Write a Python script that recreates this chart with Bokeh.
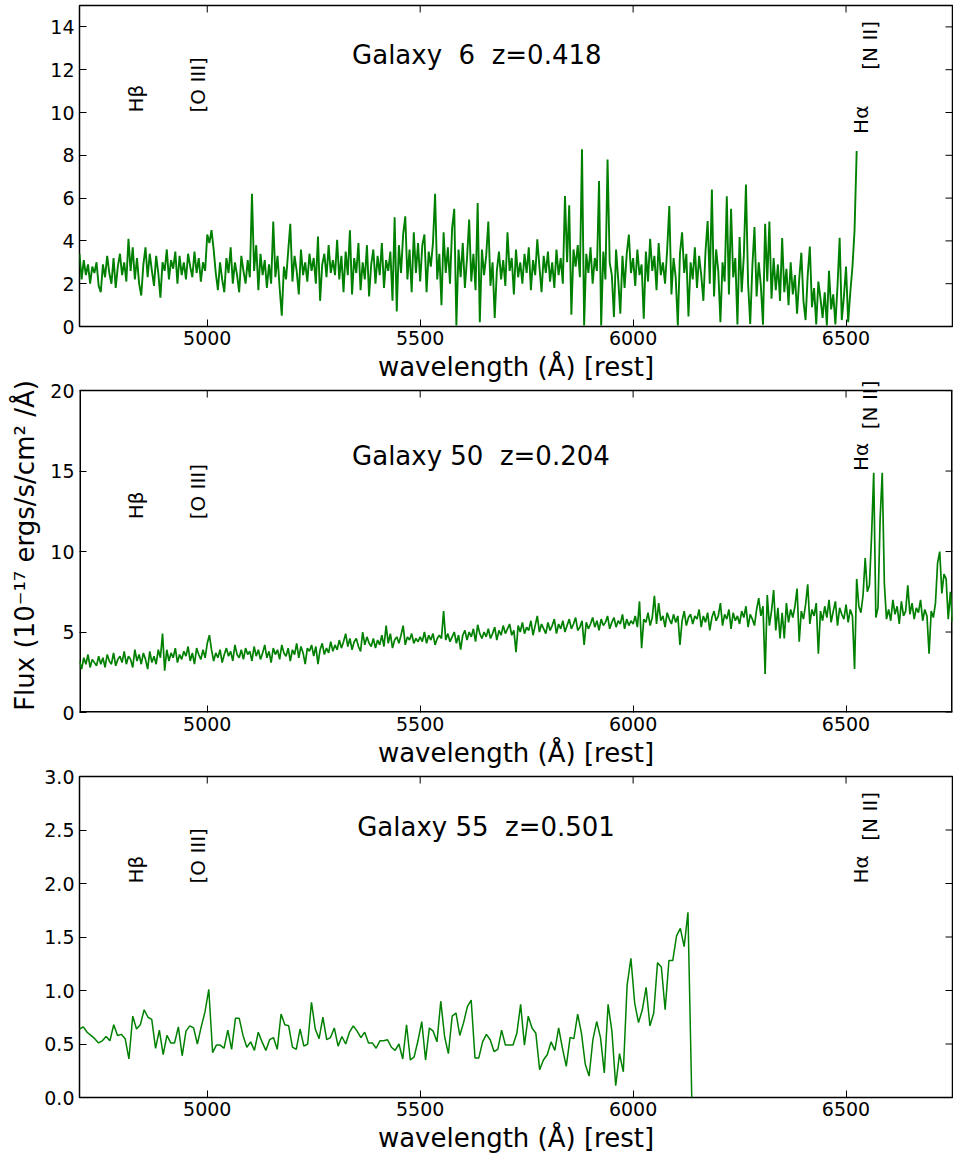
import numpy as np
from bokeh.plotting import figure
from bokeh.models import FixedTicker, PrintfTickFormatter, ColumnDataSource, Range1d, Label
from bokeh.layouts import column
from bokeh.embed import file_html
from bokeh.resources import INLINE
from bokeh.core.properties import value

FONT = "DejaVu Sans"
GREEN = "#008000"

# ---------------- data ----------------
x_range = (4700, 6750)
x_ticks = [5000, 5500, 6000, 6500]
line_names = ["Hβ", "[O III]", "Hα", "[N II]"]
line_wl = [4861, 5007, 6563, 6584]

# "\u00a0 " keeps the double spaces of the original titles visible in SVG
titles = ["Galaxy\u00a0 6\u00a0 z=0.418", "Galaxy 50\u00a0 z=0.204", "Galaxy 55\u00a0 z=0.501"]

# Galaxy 6: flux sampled every 5 A from 4700 A
g6_start, g6_step = 4700, 5
g6_flux = [
    3.4, 2.2, 3.1, 2.4, 2.9, 2.0, 2.8, 2.5, 3.0, 1.9,
    1.6, 2.9, 2.3, 3.3, 2.5, 2.0, 3.2, 1.8, 2.8, 3.4,
    2.4, 3.0, 2.1, 4.1, 2.6, 3.7, 2.2, 3.2, 2.0, 1.45,
    2.9, 3.7, 2.3, 3.4, 2.6, 1.9, 3.3, 2.5, 1.35, 3.0,
    2.6, 3.6, 2.2, 3.1, 2.7, 3.5, 2.0, 3.3, 2.4, 3.0,
    2.2, 3.4, 2.8, 2.3, 3.5, 2.5, 3.2, 2.1, 3.0, 2.6,
    4.3, 3.9, 4.5, 3.6, 2.5, 1.7, 3.0, 2.2, 1.6, 3.2,
    2.5, 3.7, 2.0, 3.0, 2.4, 1.6, 3.3, 2.6, 2.0, 3.1,
    2.3, 6.2, 2.6, 3.8, 1.7, 3.4, 2.4, 3.1, 1.8, 2.9,
    2.0, 4.9, 2.3, 3.3, 1.8, 0.5, 2.8, 2.2, 3.5, 4.8,
    2.1, 3.3, 2.6, 1.5, 3.6, 2.4, 3.0, 2.1, 3.4, 2.6,
    3.2, 2.0, 4.2, 1.2, 2.9, 3.4, 2.3, 3.8, 2.5, 3.1,
    2.4, 4.05, 2.2, 3.3, 1.6, 3.5, 2.4, 4.5, 1.5, 3.2,
    2.5, 3.9, 1.7, 3.0, 2.2, 3.8, 1.4, 2.9, 3.6, 2.0,
    3.3, 2.4, 3.9, 1.8, 3.1, 2.6, 3.5, 1.2, 5.1, 0.7,
    3.8, 2.5, 4.3, 5.15, 2.2, 3.6, 1.6, 4.4, 2.5, 3.9,
    2.1, 3.8, 4.3, 1.6, 3.5, 2.8, 3.9, 6.2, 2.2, 3.4,
    1.0, 4.4, 2.5, 3.7, 2.0, 4.6, 5.5, 0.05, 3.6, 2.3,
    3.9, 1.8, 3.2, 5.0, 2.1, 3.4, 1.7, 5.77, 0.2, 3.6,
    2.4, 3.3, 4.9, 1.9, 3.0, 0.4, 2.6, 3.5, 2.2, 3.1,
    1.9, 4.4, 2.6, 3.2, 1.5, 3.6, 2.3, 3.0, 2.0, 3.4,
    2.5, 3.7, 1.7, 3.1, 2.4, 4.07, 2.8, 1.6, 3.3, 2.5,
    3.5, 2.1, 3.0, 1.8, 3.6, 2.4, 3.2, 2.0, 6.1, 3.0,
    5.66, 0.55, 3.6, 2.8, 3.8, 2.3, 8.28, 0.05, 3.4, 2.5,
    3.7, 2.0, 3.2, 2.6, 6.8, 0.05, 3.5, 2.2, 7.8, 3.0,
    2.4, 0.44, 3.6, 2.2, 0.6, 3.3, 1.8, 3.4, 4.3, 2.5,
    3.2, 1.9, 3.6, 2.4, 2.9, 0.36, 3.5, 2.1, 4.1, 2.6,
    3.3, 1.7, 3.9, 2.4, 3.0, 2.0, 3.6, 5.63, 1.5, 3.2,
    2.3, 0.05, 3.4, 4.4, 2.5, 3.4, 0.47, 3.0, 2.2, 3.7,
    1.8, 3.3, 2.4, 1.2, 3.5, 4.93, 2.0, 6.4, 1.4, 3.6,
    2.6, 0.2, 3.0, 2.1, 6.08, 1.5, 5.5, 2.3, 3.2, 0.1,
    4.18, 1.6, 3.3, 6.64, 2.0, 0.12, 2.8, 4.65, 1.4, 3.0,
    1.9, 0.08, 4.8, 2.1, 4.9, 1.3, 3.2, 1.7, 2.9, 1.2,
    4.13, 1.6, 2.7, 1.0, 3.0, 1.5, 2.4, 0.6, 2.2, 3.45,
    1.2, 0.3, 2.4, 3.74, 0.9, 1.8, 0.1, 2.1, 1.3, 0.4,
    1.6, 0.05, 2.6, 0.8, 1.5, 0.1, 1.9, 4.15, 0.3, 1.4,
    2.8, 0.2, 1.6, 2.77, 4.5, 8.2,
]

# Galaxy 50: flux sampled every 5 A from 4700 A
g50_start, g50_step = 4700, 5
g50_flux = [
    3.2, 2.7, 3.4, 3.0, 3.6, 2.8, 3.3, 3.1, 2.9, 3.5,
    3.0, 3.4, 2.8, 3.6, 3.2, 3.0, 3.7, 2.9, 3.3, 3.5,
    3.1, 3.8, 3.0, 3.5, 3.3, 2.8, 3.9, 3.2, 3.6, 3.0,
    3.7, 3.3, 2.7, 3.8, 3.1, 3.5, 3.0, 3.9, 3.4, 4.9,
    2.6, 3.9, 3.2, 3.7, 3.4, 4.0, 3.1, 3.6, 3.3, 3.8,
    3.5, 4.1, 3.2, 3.7, 3.0, 4.0, 3.6, 3.3, 3.9, 3.4,
    4.3, 4.8, 3.9, 3.2, 3.7, 3.4, 3.9, 3.1, 3.6, 4.0,
    3.5, 3.8, 3.2, 4.2, 3.6, 3.4, 3.9, 3.3, 4.0, 3.6,
    3.8, 3.2, 4.1, 3.5, 3.9, 3.3, 3.7, 4.2, 3.4, 3.8,
    3.1, 4.0, 3.6, 3.9, 3.3, 4.2, 3.7, 3.5, 4.0, 3.2,
    3.9, 3.6, 4.3, 3.4, 4.1, 3.7, 3.0, 4.0, 3.8, 4.2,
    3.5, 4.1, 3.0, 3.9, 4.3, 3.6, 4.0, 3.7, 4.4, 3.8,
    4.2, 3.9, 4.5, 4.0, 4.4, 4.9, 4.1, 4.6, 3.9, 4.4,
    4.6, 4.1, 3.8, 5.0, 4.2, 4.7, 4.3, 4.1, 4.6, 4.0,
    4.5, 4.2, 4.8, 4.1, 5.4, 4.3, 4.9, 4.0, 4.5, 4.7,
    4.3, 4.8, 5.4, 4.2, 4.7, 4.5, 4.9, 4.3, 4.6, 4.4,
    4.7, 4.4, 5.0, 4.3, 4.8, 4.5, 4.9, 4.2, 4.6, 4.8,
    4.6, 6.3, 4.5, 4.9, 4.4, 4.7, 5.0, 4.3, 4.8, 3.9,
    4.8, 5.1, 4.5, 5.0, 4.7, 5.2, 4.4, 5.45, 4.9, 4.6,
    5.0, 4.7, 5.2, 4.6, 4.9, 5.3, 4.5, 5.1, 4.8, 5.4,
    4.9, 5.2, 5.5, 4.8, 5.1, 3.75, 5.4, 5.0, 5.6, 4.9,
    5.3, 5.1, 5.7, 4.8, 5.4, 6.0, 5.0, 5.5, 5.2, 4.9,
    5.6, 5.1, 5.4, 5.8, 4.9, 5.5, 5.2, 5.7, 5.0, 5.4,
    5.8, 5.2, 5.5, 5.9, 5.1, 5.3, 5.7, 4.2, 5.6, 5.2,
    5.5, 5.9, 5.3, 5.7, 5.1, 5.8, 5.4, 5.6, 6.0, 5.2,
    5.6, 5.9, 5.3, 5.7, 5.5, 6.1, 5.2, 5.8, 5.4, 5.7,
    5.5, 6.0, 5.3, 6.9, 4.0, 5.8, 5.6, 6.2, 5.4, 5.9,
    7.25, 5.5, 6.8, 5.7, 6.0, 5.3, 6.2, 5.8, 5.5, 6.1,
    5.6, 6.0, 4.2, 5.7, 6.3, 5.4, 5.9, 6.1, 5.5, 6.0,
    5.8, 6.4, 5.3, 6.0, 5.6, 6.2, 5.1, 5.9, 6.3, 5.7,
    6.0, 6.8, 5.4, 6.1, 5.8, 6.4, 5.2, 6.2, 5.7, 6.0,
    5.5, 6.3, 5.9, 6.6, 5.3, 6.1, 5.8, 5.4, 6.4, 7.1,
    6.0, 6.6, 2.4, 7.3, 5.4, 6.3, 7.6, 5.1, 6.5, 4.6,
    6.2, 4.6, 6.8, 5.6, 6.4, 5.9, 6.6, 7.7, 4.4, 6.3,
    5.8, 6.7, 7.96, 5.5, 6.4, 6.0, 6.8, 3.65, 6.3, 5.7,
    6.6, 5.9, 7.0, 5.6, 6.3, 6.9, 5.4, 6.5, 6.1, 5.8,
    6.7, 5.6, 6.4, 6.0, 2.7, 8.3, 6.6, 6.2, 7.3, 9.6,
    7.5, 7.9, 11.0, 14.9, 5.9, 6.5, 12.0, 14.9, 8.0, 5.8,
    6.4, 5.7, 7.0, 6.1, 6.6, 5.5, 6.9, 6.0, 6.3, 7.9,
    6.1, 6.8, 5.8, 6.5, 6.2, 7.0, 5.7, 6.4, 6.0, 3.65,
    6.3, 5.9, 6.8, 9.3, 10.0, 7.4, 8.6, 8.3, 5.8, 7.5,
    5.6,
]

# Galaxy 55: flux sampled every 8.93 A from 4700 A
g55_start, g55_step = 4700, 8.93
g55_flux = [
    0.64, 0.66, 0.61, 0.58, 0.55, 0.51, 0.53, 0.57, 0.53, 0.68,
    0.58, 0.59, 0.55, 0.36, 0.76, 0.64, 0.68, 0.82, 0.75, 0.73,
    0.46, 0.63, 0.40, 0.58, 0.51, 0.51, 0.66, 0.39, 0.62, 0.67,
    0.65, 0.50, 0.66, 0.80, 1.01, 0.42, 0.49, 0.49, 0.46, 0.63,
    0.45, 0.74, 0.74, 0.58, 0.47, 0.52, 0.44, 0.61, 0.52, 0.44,
    0.54, 0.56, 0.45, 0.78, 0.68, 0.67, 0.47, 0.45, 0.64, 0.48,
    0.50, 0.89, 0.64, 0.55, 0.75, 0.54, 0.56, 0.65, 0.48, 0.57,
    0.50, 0.61, 0.67, 0.62, 0.56, 0.61, 0.51, 0.51, 0.46, 0.53,
    0.53, 0.54, 0.47, 0.44, 0.50, 0.36, 0.68, 0.35, 0.38, 0.53,
    0.71, 0.35, 0.65, 0.62, 0.52, 0.90, 0.57, 0.41, 0.76, 0.79,
    0.58, 0.70, 0.85, 0.91, 0.37,
    0.37, 0.52, 0.59, 0.54, 0.43, 0.45, 0.63, 0.49, 0.49, 0.49,
    0.60, 0.87, 0.49, 0.76, 0.65, 0.60, 0.26, 0.35, 0.40, 0.52,
    0.44, 0.65, 0.46, 0.29, 0.56, 0.55, 0.78, 0.60, 0.31, 0.20,
    0.54, 0.71, 0.56, 0.23, 0.87, 0.62, 0.11, 0.41, 0.24, 1.05,
    1.30, 0.88, 0.70, 0.82, 1.03, 0.67, 0.79, 1.26, 1.22, 0.82,
    1.28, 1.28, 1.51, 1.58, 1.41, 1.73,
    0.0,
]

y_max = [15, 20, 3]
y_ticks = [
    [0, 2, 4, 6, 8, 10, 12, 14],
    [0, 5, 10, 15, 20],
    [0, 0.5, 1.0, 1.5, 2.0, 2.5, 3.0],
]
label_y = [
    [10, 10, 9, 12],
    [12, 12, 15, 17.6],
    [2.0, 2.0, 2.0, 2.4],
]
title_xy = [(5340, 12.0), (5340, 15.0), (5352, 2.39)]
y_label = "Flux (10⁻¹⁷ ergs/s/cm² /Å)"
x_label = "wavelength (Å) [rest]"

TICK_LEN = 7
SPINE_W = 1.5


def style_axis(ax):
    ax.major_tick_in = TICK_LEN
    ax.major_tick_out = 0
    ax.minor_tick_in = 0
    ax.minor_tick_out = 0
    ax.axis_line_color = None
    ax.major_tick_line_color = "black"
    ax.major_tick_line_width = 1
    ax.major_label_text_font = FONT
    ax.major_label_text_font_size = "19px"
    ax.major_label_text_color = "black"
    ax.axis_label_text_font = FONT
    ax.axis_label_text_font_size = "26px"
    ax.axis_label_text_font_style = "normal"
    ax.axis_label_text_color = "black"


def make_panel(i, start, step, flux, height, b_top, b_bottom, fmt, lw, headroom=0.0):
    """headroom: extra (undrawn) data range above the panel box, so that a
    line label may run past the top spine as in the original figure."""
    wl = [start + step * k for k in range(len(flux))]
    ymax = y_max[i]
    p = figure(width=953, height=height,
               x_range=Range1d(*x_range), y_range=Range1d(0, ymax + headroom),
               output_backend="svg", toolbar_location=None,
               min_border_left=79, min_border_right=1,
               min_border_top=b_top, min_border_bottom=b_bottom)
    p.grid.visible = False
    p.background_fill_color = "white"
    p.border_fill_color = "white"
    if headroom > 0:
        p.outline_line_color = None
        p.background_fill_alpha = 0
        x0, x1 = x_range
        # box of the panel: left, right, top, bottom spines
        p.segment(x0=[x0, x1, x0, x0], y0=[0, 0, ymax, 0],
                  x1=[x0, x1, x1, x1], y1=[ymax, ymax, ymax, 0],
                  line_color="black",
                  line_width=[2 * SPINE_W, 2 * SPINE_W, SPINE_W, 2 * SPINE_W])
    else:
        p.outline_line_color = "black"
        p.outline_line_width = SPINE_W

    xa = p.below[0]
    ya = p.left[0]
    xa.ticker = FixedTicker(ticks=x_ticks)
    ya.ticker = FixedTicker(ticks=y_ticks[i])
    ya.formatter = PrintfTickFormatter(format=fmt)
    style_axis(xa)
    style_axis(ya)
    xa.axis_label = x_label
    xa.major_label_standoff = 4
    xa.axis_label_standoff = 4
    ya.major_label_standoff = 5

    # inward ticks on the top and right edges, as short screen-length rays
    p.ray(x=x_ticks, y=[ymax] * len(x_ticks), length=TICK_LEN,
          length_units="screen", angle=-np.pi / 2, line_color="black", line_width=1)
    p.ray(x=[x_range[1]] * len(y_ticks[i]), y=y_ticks[i], length=TICK_LEN,
          length_units="screen", angle=np.pi, line_color="black", line_width=1)

    src = ColumnDataSource(dict(wl=wl, flux=flux))
    p.line("wl", "flux", source=src, line_color=GREEN, line_width=lw)

    # emission-line markers
    for wl_line, ly, name in zip(line_wl, label_y[i], line_names):
        p.add_layout(Label(x=wl_line, y=ly, text=name, angle=np.pi / 2,
                           text_align="left", text_baseline="bottom",
                           text_font=FONT, text_font_size="20px",
                           text_color="black"))
    tx, ty = title_xy[i]
    p.text(x=[tx], y=[ty], text=[titles[i]], text_align="left",
           text_baseline="bottom", text_font=value(FONT),
           text_font_size="26px", text_color="black")
    return p


# figure 1 canvas: 0..388 ; frame 5..326
p1 = make_panel(0, g6_start, g6_step, g6_flux, 388, 5, 62, "%d", 1.9)
# figure 2 canvas 378..774 (overlaps figure 1 by 10 px); box 390..712,
# frame extended 12 px (0.75 units) above the box
p2 = make_panel(1, g50_start, g50_step, g50_flux, 396, 0, 62, "%d", 1.7, headroom=0.75)
# figure 3 canvas 764..1159; frame 776..1097
p3 = make_panel(2, g55_start, g55_step, g55_flux, 395, 12, 62, "%.1f", 1.5)

for p in (p2, p3):
    p.margin = (-10, 0, 0, 0)
    p.border_fill_alpha = 0

p2.left[0].axis_label = y_label
p2.left[0].axis_label_standoff = 7

layout = column(p1, p2, p3, spacing=0)
open("out.html", "w").write(file_html(layout, INLINE))
